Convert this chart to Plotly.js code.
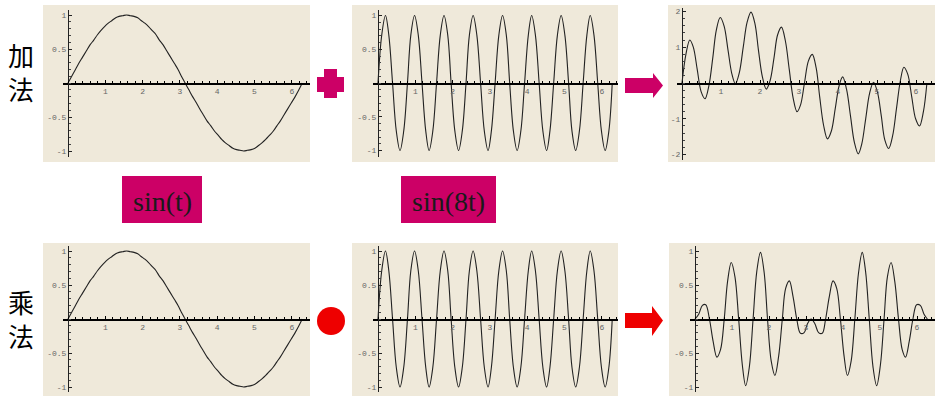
<!DOCTYPE html>
<html>
<head>
<meta charset="utf-8">
<script src="https://cdn.plot.ly/plotly-3.0.1.min.js"></script>
<style>html,body{margin:0;padding:0;background:#fff;}#chart{width:940px;height:404px;}</style>
</head>
<body>
<div id="chart"></div>
<script>
const t = [0,0.10,0.20,0.29,0.39,0.49,0.59,0.69,0.79,0.88,0.98,1.08,1.18,1.28,1.37,1.47,1.57,
  1.67,1.77,1.87,1.96,2.06,2.16,2.26,2.36,2.45,2.55,2.65,2.75,2.85,2.95,3.04,3.14,
  3.24,3.34,3.44,3.53,3.63,3.73,3.83,3.93,4.03,4.12,4.22,4.32,4.42,4.52,4.61,4.71,
  4.81,4.91,5.01,5.11,5.20,5.30,5.40,5.50,5.60,5.69,5.79,5.89,5.99,6.09,6.19,6.28];
const sinT = [0,0.10,0.20,0.29,0.38,0.47,0.56,0.63,0.71,0.77,0.83,0.88,0.92,0.96,0.98,0.99,1,
  0.99,0.98,0.96,0.92,0.88,0.83,0.77,0.71,0.63,0.56,0.47,0.38,0.29,0.20,0.10,0,
  -0.10,-0.20,-0.29,-0.38,-0.47,-0.56,-0.63,-0.71,-0.77,-0.83,-0.88,-0.92,-0.96,-0.98,-0.99,-1,
  -0.99,-0.98,-0.96,-0.92,-0.88,-0.83,-0.77,-0.71,-0.63,-0.56,-0.47,-0.38,-0.29,-0.20,-0.10,0];
const sin8T = [0,0.71,1,0.71,0,-0.71,-1,-0.71, 0,0.71,1,0.71,0,-0.71,-1,-0.71,
  0,0.71,1,0.71,0,-0.71,-1,-0.71, 0,0.71,1,0.71,0,-0.71,-1,-0.71,
  0,0.71,1,0.71,0,-0.71,-1,-0.71, 0,0.71,1,0.71,0,-0.71,-1,-0.71,
  0,0.71,1,0.71,0,-0.71,-1,-0.71, 0,0.71,1,0.71,0,-0.71,-1,-0.71, 0];
const sumY = [0,0.80,1.20,1.00,0.38,-0.24,-0.44,-0.07,0.71,1.48,1.83,1.59,0.92,0.25,-0.02,0.29,1,
  1.70,1.98,1.66,0.92,0.18,-0.17,0.07,0.71,1.34,1.56,1.18,0.38,-0.42,-0.80,-0.61,0,
  0.61,0.80,0.42,-0.38,-1.18,-1.56,-1.34,-0.71,-0.07,0.17,-0.18,-0.92,-1.66,-1.98,-1.70,-1,
  -0.29,0.02,-0.25,-0.92,-1.59,-1.83,-1.48,-0.71,0.07,0.44,0.24,-0.38,-1.00,-1.20,-0.80,0];
const prodY = [0,0.07,0.20,0.21,0,-0.33,-0.56,-0.45,0,0.55,0.83,0.62,0,-0.68,-0.98,-0.70,0,
  0.70,0.98,0.68,0,-0.62,-0.83,-0.55,0,0.45,0.56,0.33,0,-0.21,-0.20,-0.07,0,
  -0.07,-0.20,-0.21,0,0.33,0.56,0.45,0,-0.55,-0.83,-0.62,0,0.68,0.98,0.70,0,
  -0.70,-0.98,-0.68,0,0.62,0.83,0.55,0,-0.45,-0.56,-0.33,0,0.21,0.20,0.07,0];
const xTickVals = [1,2,3,4,5,6];
const yTickVals1 = [-1,-0.5,0.5,1];
const yTickText1 = ['-1','-0.5','0.5','1'];
const yTickVals2 = [-2,-1,1,2];
const yTickText2 = ['-2','-1','1','2'];
const rowLabels = ['加<br>法','乘<br>法'];
const funcLabels = ['sin(t)','sin(8t)'];

// ---- layout geometry (pixels) ----
const W = 940, H = 404;
const px = x => x / W, py = y => 1 - y / H;
const panels = [
  {y: sinT,  box:[43,310,5,162],  area:[63,310,10,157], o:[68,83],  sx:37.3, sy:68,   yt:1},
  {y: sin8T, box:[352,618,5,162], area:[373,618,10,157], o:[378,83], sx:37.3, sy:67.5, yt:1},
  {y: sumY,  box:[668,935,5,162], area:[677,935,8,160], o:[682,83], sx:39,   sy:35.8, yt:2},
  {y: sinT,  box:[43,310,243,396], area:[63,310,246,392], o:[68,319], sx:37.3, sy:68, yt:1},
  {y: sin8T, box:[352,618,243,396], area:[373,618,246,392], o:[378,319], sx:37.3, sy:68, yt:1},
  {y: prodY, box:[669,935,243,396], area:[690,935,246,392], o:[695,319], sx:37, sy:68, yt:1}
];

const traces = [];
const layout = {
  width: W, height: H, margin: {l:0, r:0, t:0, b:0},
  paper_bgcolor: '#ffffff', plot_bgcolor: 'rgba(0,0,0,0)',
  showlegend: false, shapes: [], annotations: []
};
const tickFont = {family: 'Liberation Mono, DejaVu Sans Mono, monospace', size: 8, color: '#666'};
const BG = '#EFE9DA';

panels.forEach((p, i) => {
  const n = i === 0 ? '' : String(i + 1);
  traces.push({
    x: t, y: p.y, xaxis: 'x' + n, yaxis: 'y' + n, mode: 'lines',
    line: {color: '#222', width: 1.1, shape: 'spline', smoothing: 1},
    hoverinfo: 'skip'
  });
  const [ax0, ax1, ay0, ay1] = p.area;
  const [ox, oy] = p.o;
  layout['xaxis' + n] = {
    domain: [px(ax0), px(ax1)],
    range: [(ax0 - ox) / p.sx, (ax1 - ox) / p.sx],
    anchor: 'free', position: py(oy), side: 'bottom',
    showline: true, linecolor: '#000', linewidth: 1.5,
    showgrid: false, zeroline: false,
    tickmode: 'array', tickvals: xTickVals, ticktext: xTickVals.map(String),
    ticks: 'inside', ticklen: 3, tickcolor: '#000', tickwidth: 1,
    minor: {tickmode: 'linear', tick0: 0, dtick: 0.2, ticks: 'inside', ticklen: 2, tickcolor: '#000', showgrid: false},
    tickfont: tickFont, fixedrange: true
  };
  layout['yaxis' + n] = {
    domain: [py(ay1), py(ay0)],
    range: [(oy - ay1) / p.sy, (oy - ay0) / p.sy],
    anchor: 'free', position: px(ox), side: 'left',
    showline: true, linecolor: '#222', linewidth: 1,
    showgrid: false, zeroline: false,
    tickmode: 'array',
    tickvals: p.yt === 1 ? yTickVals1 : yTickVals2,
    ticktext: p.yt === 1 ? yTickText1 : yTickText2,
    ticks: 'inside', ticklen: 3, tickcolor: '#222', tickwidth: 1,
    minor: {tickmode: 'linear', tick0: 0, dtick: p.yt === 1 ? 0.1 : 0.2, ticks: 'inside', ticklen: 2, tickcolor: '#444', showgrid: false},
    tickfont: tickFont, fixedrange: true
  };
  const [bx0, bx1, by0, by1] = p.box;
  layout.shapes.push({type: 'rect', xref: 'paper', yref: 'paper', layer: 'below',
    x0: px(bx0), x1: px(bx1), y0: py(by1), y1: py(by0), fillcolor: BG, line: {width: 0}});
});

// operator symbols
const MAG = '#CC0066', RED = '#EE0000';
function poly(pts) {
  return 'M' + pts.map(([x, y]) => px(x) + ',' + py(y)).join(' L') + ' Z';
}
layout.shapes.push({type: 'path', xref: 'paper', yref: 'paper', fillcolor: MAG, line: {width: 0},
  path: poly([[324,69],[337,69],[337,77],[344,77],[344,92],[337,92],[337,98],[324,98],[324,92],[317,92],[317,77],[324,77]])});
layout.shapes.push({type: 'path', xref: 'paper', yref: 'paper', fillcolor: MAG, line: {width: 0},
  path: poly([[625,78],[653,78],[653,73],[663,85.5],[653,98],[653,93],[625,93]])});
layout.shapes.push({type: 'circle', xref: 'paper', yref: 'paper', fillcolor: RED, line: {width: 0},
  x0: px(317), x1: px(345), y0: py(335), y1: py(307)});
layout.shapes.push({type: 'path', xref: 'paper', yref: 'paper', fillcolor: RED, line: {width: 0},
  path: poly([[625,313],[652,313],[652,306],[663,320.5],[652,336],[652,328],[625,328]])});

// function label boxes
const labelBoxes = [[122,202,176,223],[401,496,176,223]];
labelBoxes.forEach((b, i) => {
  layout.shapes.push({type: 'rect', xref: 'paper', yref: 'paper',
    x0: px(b[0]), x1: px(b[1]), y0: py(b[3]), y1: py(b[2]), fillcolor: MAG, line: {width: 0}});
  layout.annotations.push({xref: 'paper', yref: 'paper', x: px((b[0] + b[1]) / 2), y: py((b[2] + b[3]) / 2 + 1.5),
    text: funcLabels[i], showarrow: false, xanchor: 'center', yanchor: 'middle',
    font: {family: 'Liberation Serif, Times New Roman, serif', size: 28, color: '#1a1a1a'}});
});

// row labels (Chinese), one text per row
const rowCenters = [71.5, 318.5];
rowLabels.forEach((txt, r) => {
  layout.annotations.push({xref: 'paper', yref: 'paper', x: px(21), y: py(rowCenters[r]),
    text: txt, showarrow: false, xanchor: 'center', yanchor: 'middle', align: 'center',
    font: {family: 'Noto Sans CJK SC, sans-serif', size: 26, color: '#000'}});
});

Plotly.newPlot('chart', traces, layout, {displayModeBar: false, staticPlot: true});
</script>
</body>
</html>
